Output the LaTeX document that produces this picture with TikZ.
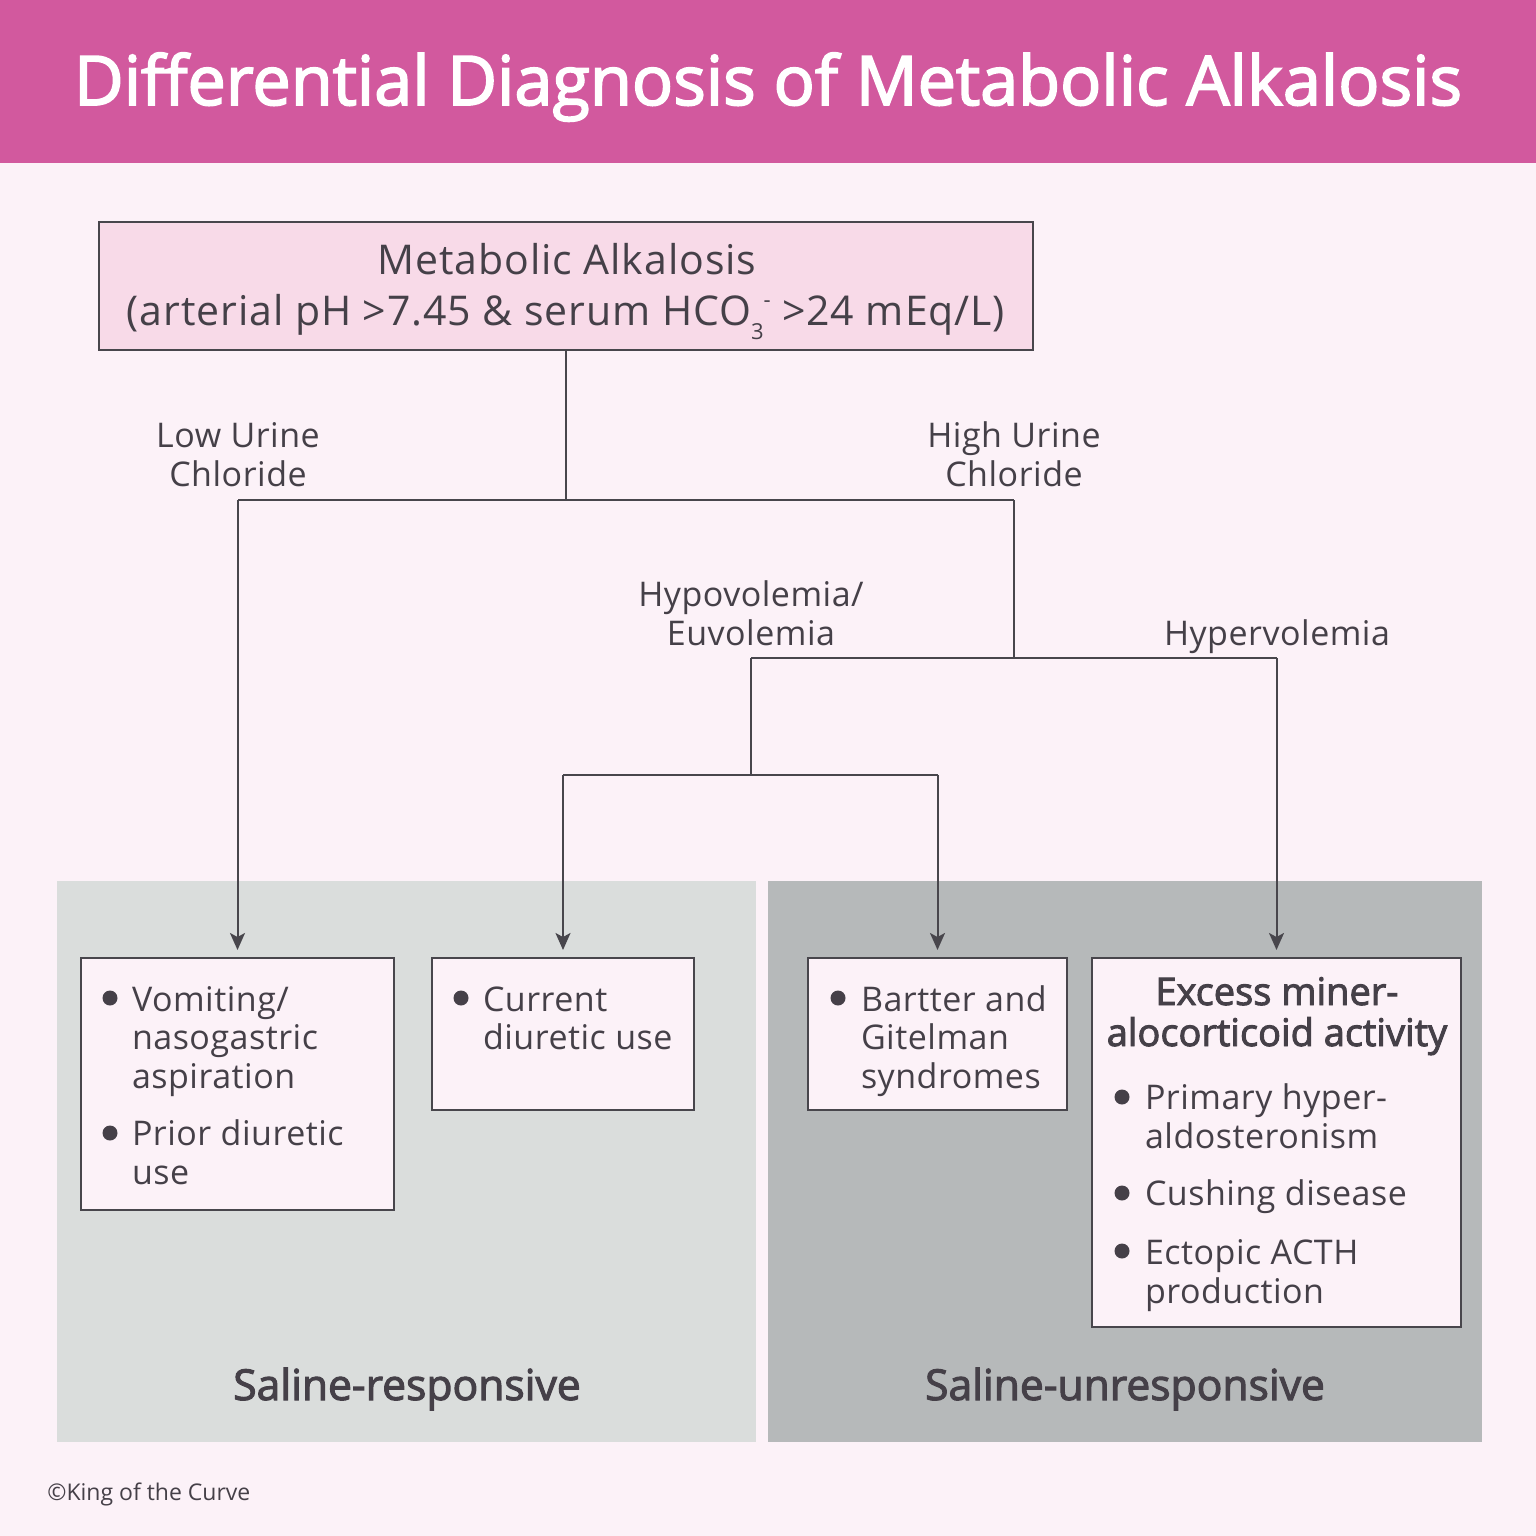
\documentclass[tikz,border=0pt]{standalone}
\usepackage{fontspec}
\setmainfont[LetterSpace=1.5]{Open Sans}
\newfontfamily\rootfont[LetterSpace=2.2]{Open Sans}
\newfontfamily\ttlfont[FakeBold=2.5]{Open Sans}
\newfontfamily\plainfont{Open Sans}
\usetikzlibrary{arrows.meta}
\definecolor{hdr}{RGB}{210,89,158}
\definecolor{bgp}{RGB}{252,242,248}
\definecolor{rootp}{RGB}{248,218,232}
\definecolor{lgrey}{RGB}{218,221,220}
\definecolor{dgrey}{RGB}{182,185,186}
\definecolor{ink}{RGB}{69,64,72}
\definecolor{edge}{RGB}{72,70,76}
\tikzset{
  x=0.5pt,y=-0.5pt,
  panel/.style={draw=none,inner sep=0,outer sep=0},
  box/.style={draw=edge,line width=1pt,fill=bgp,inner sep=0,outer sep=0},
  txt/.style={inner sep=0,outer sep=0,text=ink,font=\fontsize{17}{19.25}\selectfont,align=left},
  ctxt/.style={txt,align=center},
  roottxt/.style={inner sep=0,outer sep=0,text=ink,font=\rootfont\fontsize{20.5}{24}\selectfont},
  headtxt/.style={inner sep=0,outer sep=0,text=ink,font=\ttlfont\fontsize{19}{20}\selectfont,align=center},
  captxt/.style={inner sep=0,outer sep=0,text=ink,font=\ttlfont\fontsize{21.3}{22}\selectfont,align=center},
  link/.style={draw=edge,line width=1pt},
  arrow/.style={link,-{Stealth[length=8.5pt,width=7.5pt,inset=2pt]},shorten >=4pt},
  dot/.style={circle,fill=ink,draw=none,inner sep=0,minimum size=7.5pt},
}
\begin{document}
\begin{tikzpicture}
\useasboundingbox (0,0) rectangle (1536,1536);
\fill[bgp] (0,0) rectangle (1536,1536);
\node[panel,fill=hdr,minimum width=768pt,minimum height=81.5pt,anchor=north west,text=white] (title) at (0,0) {};
\node[anchor=base,inner sep=0,text=white,font=\ttlfont\fontsize{34.2}{36}\selectfont] (titletext) at (768,105) {Differential Diagnosis of Metabolic Alkalosis};
\node[panel,fill=lgrey,minimum width=349.5pt,minimum height=280.5pt] (pl) at (406.5,1161.5) {};
\node[panel,fill=dgrey,minimum width=357pt,minimum height=280.5pt] (pr) at (1125,1161.5) {};
\node[box,fill=rootp,minimum width=467pt,minimum height=64pt] (root) at (566,286) {};
\node[box,minimum width=156.5pt,minimum height=126pt] (b1) at (237.5,1084) {};
\node[box,minimum width=131pt,minimum height=76pt] (b2) at (563,1034) {};
\node[box,minimum width=129.5pt,minimum height=76pt] (b3) at (937.5,1034) {};
\node[box,minimum width=184.5pt,minimum height=184.5pt] (b4) at (1276.5,1142.5) {};
% root text
\node[roottxt,anchor=base] (rt1) at (567,274) {Metabolic Alkalosis};
\node[roottxt,anchor=base] (rt2) at (566,325) {(arterial pH >7.45 \& serum HCO\raisebox{-0.65ex}{\fontsize{11}{11}\selectfont 3}\raisebox{0.8ex}{\fontsize{11}{11}\selectfont -} >24 mEq/L)};
% branch labels
\node[ctxt,anchor=base] (l1) at (238,447) {Low Urine};
\node[ctxt,anchor=base] (l2) at (238,486) {Chloride};
\node[ctxt,anchor=base] (h1) at (1014,447) {High Urine};
\node[ctxt,anchor=base] (h2) at (1014,486) {Chloride};
\node[ctxt,anchor=base] (v1) at (751,606) {Hypovolemia/};
\node[ctxt,anchor=base] (v2) at (751,645) {Euvolemia};
\node[ctxt,anchor=base] (v3) at (1277,645) {Hypervolemia};
% connectors
\coordinate (j0) at (root.south |- 0,500);
\coordinate (jl) at (b1.north |- 0,500);
\coordinate (jr) at (1014,500);
\coordinate (j1) at (1014,658);
\coordinate (jv) at (751,658);
\coordinate (jh) at (b4.north |- 0,658);
\coordinate (j2) at (751,775);
\coordinate (jc) at (b2.north |- 0,775);
\coordinate (jb) at (b3.north |- 0,775);
\draw[link] (root.south) -- (j0);
\draw[link] (jr) -- (jl);
\draw[link] (jr) -- (j1);
\draw[link] (jv) -- (jh);
\draw[link] (jv) -- (j2);
\draw[link] (jc) -- (jb);
\draw[arrow] (jl) -- (b1.north);
\draw[arrow] (jc) -- (b2.north);
\draw[arrow] (jb) -- (b3.north);
\draw[arrow] (jh) -- (b4.north);
% box 1
\node[dot] (d1) at (110,998) {};
\node[txt,anchor=base west] (a1) at (132,1011) {Vomiting/};
\node[txt,anchor=base west] (a2) at (132,1049) {nasogastric};
\node[txt,anchor=base west] (a3) at (132,1088) {aspiration};
\node[dot] (d2) at (110,1133) {};
\node[txt,anchor=base west] (a4) at (132,1145) {Prior diuretic};
\node[txt,anchor=base west] (a5) at (132,1184) {use};
% box 2
\node[dot] (d3) at (461,998) {};
\node[txt,anchor=base west] (c1) at (483,1011) {Current};
\node[txt,anchor=base west] (c2) at (483,1049) {diuretic use};
% box 3
\node[dot] (d4) at (838,998) {};
\node[txt,anchor=base west] (g1) at (861,1011) {Bartter and};
\node[txt,anchor=base west] (g2) at (861,1049) {Gitelman};
\node[txt,anchor=base west] (g3) at (861,1088) {syndromes};
% box 4
\node[headtxt,anchor=base] (e1) at (1277,1005) {Excess miner-};
\node[headtxt,anchor=base] (e2) at (1277,1046) {alocorticoid activity};
\node[dot] (d5) at (1122,1097) {};
\node[txt,anchor=base west] (m1) at (1145,1109) {Primary hyper-};
\node[txt,anchor=base west] (m2) at (1145,1148) {aldosteronism};
\node[dot] (d6) at (1122,1193) {};
\node[txt,anchor=base west] (m3) at (1145,1205) {Cushing disease};
\node[dot] (d7) at (1122,1251) {};
\node[txt,anchor=base west] (m4) at (1145,1264) {Ectopic ACTH};
\node[txt,anchor=base west] (m5) at (1145,1303) {production};
% panel captions
\node[captxt,anchor=base] (s1) at (407,1400) {Saline-responsive};
\node[captxt,anchor=base] (s2) at (1125,1400) {Saline-unresponsive};
\node[anchor=base west,inner sep=0,text=ink,font=\plainfont\fontsize{11.5}{14}\selectfont] (cr) at (47,1500) {©King of the Curve};
\end{tikzpicture}
\end{document}
